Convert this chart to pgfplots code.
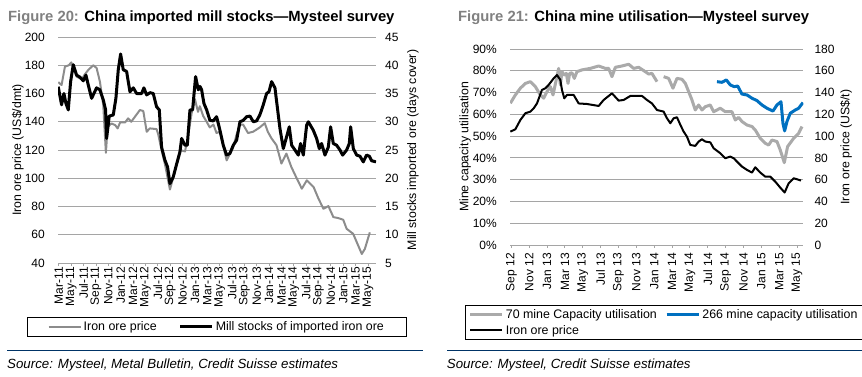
\documentclass[border=0pt]{standalone}
\usepackage{fontspec}
\setmainfont{Liberation Sans}
\usepackage{pgfplots}
\pgfplotsset{compat=1.18}
\definecolor{gridc}{RGB}{165,165,165}
\definecolor{priceg}{RGB}{140,140,140}
\definecolor{lightg}{RGB}{170,170,170}
\definecolor{cblue}{RGB}{0,112,192}
\definecolor{navy}{RGB}{0,51,102}
\definecolor{figgray}{RGB}{128,128,128}
\pgfplotsset{
 cbase/.style={
   scale only axis, anchor=south west,
   /pgf/number format/assume math mode=true,
   tick label style={font=\fontsize{12}{12}\selectfont},
   label style={font=\fontsize{12.3}{13}\selectfont},
   unbounded coords=jump,
 },
 leftaxis/.style={axis x line*=bottom, axis y line*=left,
   y axis line style={draw=none},
   x axis line style={draw=gridc, line width=1pt, -},
   ymajorgrids, grid style={draw=gridc, line width=0.9pt},
   ytick style={draw=none},
   xtick style={draw=gridc, line width=0.9pt},
   tick align=outside, major tick length=3pt,
   xticklabel style={rotate=90, anchor=east, inner sep=0pt},
   yticklabel style={anchor=east, inner sep=0pt, xshift=-10pt}},
 rightaxis/.style={axis y line*=right, axis x line=none,
   y axis line style={draw=none}, ytick style={draw=none},
   yticklabel style={anchor=west, inner sep=0pt, xshift=9pt}},
 legend image code/.code={\draw[#1, line cap=butt] (0pt,0pt) -- (32pt,0pt);},
}
\begin{document}
\begin{tikzpicture}[x=1pt,y=1pt]
\path[use as bounding box] (0,0) rectangle (862,376);
% ---------- titles ----------
\node[anchor=base west, inner sep=0pt, font=\fontsize{14.8}{15}\selectfont\bfseries] at (8,354.3) {\textcolor{figgray}{Figure 20:} China imported mill stocks—Mysteel survey};
\node[anchor=base west, inner sep=0pt, font=\fontsize{14.8}{15}\selectfont\bfseries] at (458,354.3) {\textcolor{figgray}{Figure 21:} China mine utilisation—Mysteel survey};
% ---------- left chart ----------
\begin{axis}[cbase, leftaxis, at={(58pt,113pt)}, width=318pt, height=226pt,
  xmin=1.85, xmax=53.3, ymin=40, ymax=200,
  ytick={40,60,...,200},
  xtick={2,4,...,52},
  xticklabels={Mar-11,May-11,Jul-11,Sep-11,Nov-11,Jan-12,Mar-12,May-12,Jul-12,Sep-12,Nov-12,Jan-13,Mar-13,May-13,Jul-13,Sep-13,Nov-13,Jan-14,Mar-14,May-14,Jul-14,Sep-14,Nov-14,Jan-15,Mar-15,May-15},
  xticklabel style={xshift=-1pt},
  ylabel={Iron ore price (US\$/dmt)},
  ylabel style={at={(rel axis cs:-0.126,0.5)}, anchor=center},
]
\addplot[priceg, line width=2pt, line join=round] coordinates {
(1.9,168)(2.43,166)(2.97,179)(3.6,180)(4.0,182)(4.86,172)(5.67,170)(6.2,173.6)(6.75,176.7)(7.56,180)(8.1,178)(8.63,168.4)(9.17,151.8)(9.6,118)(9.88,136.4)(10.5,138.8)(11.1,137.6)(11.5,135.3)(11.9,139.5)(12.7,139.5)(13.2,142.4)(13.7,140)(15.1,148.3)(15.65,147.6)(16.2,132.9)(16.7,135.3)(17.8,134.8)(18.07,131)(18.6,120)(19.15,110)(19.96,92)(20.77,105)(21.58,120)(22.4,119)(22.9,130)(23.47,146)(24.0,156)(24.5,147)(24.8,151)(25.35,144)(25.9,140)(26.4,136)(27.0,138)(27.5,132)(28.05,133)(29.13,112.7)(30.2,122)(30.75,131)(31.3,138)(31.8,138)(32.6,132)(33.45,133)(34.5,136)(35.3,139)(35.8,132.9)(36.4,128.2)(37.2,123.4)(38.0,110.4)(38.8,117.5)(39.6,108)(40.5,99.7)(41.3,92.6)(42.1,98.5)(43.2,93.8)(44.0,85.5)(44.8,78.4)(45.6,80.3)(46.4,72.5)(47.2,71.8)(48.0,70.6)(48.55,64.2)(49.6,60.7)(50.2,54.6)(51.0,46.4)(51.5,50)(52.3,61.7)
};
\end{axis}
\begin{axis}[cbase, rightaxis, at={(58pt,113pt)}, width=318pt, height=226pt,
  xmin=1.85, xmax=53.3, ymin=5, ymax=45,
  ytick={5,10,...,45},
  ylabel={Mill stocks imported ore (days cover)},
  ylabel style={at={(rel axis cs:1.116,0.5)}, anchor=center},
  legend columns=2, legend cell align=left,
  legend style={at={(-0.0965,-0.2376)}, anchor=north west, draw=black, line width=0.8pt,
    font=\fontsize{12.4}{13}\selectfont, inner xsep=20pt, inner ysep=2.5pt,
    nodes={inner xsep=2pt, inner ysep=2pt},
    /tikz/every even column/.append style={column sep=20pt}},
]
\addlegendimage{priceg, line width=2pt}
\addlegendentry{Iron ore price}
\addplot[black, line width=3pt, line join=round] coordinates {
(1.89,36.2)(2.43,33.0)(2.81,35)(3.13,33.25)(3.51,32.1)(3.89,37.1)(4.32,40.1)(4.86,38.25)(5.4,37.9)(5.94,37.25)(6.37,38.25)(6.75,36.5)(7.29,34.15)(8.09,36)(8.63,35.65)(9.17,33.9)(9.55,32.1)(9.71,27.05)(10.14,31)(10.79,31.2)(11.22,34.15)(11.6,39.2)(11.98,42)(12.41,39.2)(12.95,38.9)(13.49,35.3)(14.03,36)(14.57,35)(15.38,35)(15.75,36)(16.19,34.75)(16.73,35.15)(17.26,35)(17.8,32.65)(18.24,32.1)(18.61,25.5)(19.15,23.2)(19.58,22)(19.96,19.05)(20.5,20.25)(21.04,22.5)(21.58,24.65)(21.85,27.05)(22.39,25.85)(22.77,25.85)(23.2,32.1)(23.63,32.1)(24.11,38)(24.55,35.65)(24.82,36.25)(25.09,35.65)(25.46,33.25)(25.9,32.1)(26.43,30.25)(26.97,30.15)(27.51,30.9)(28.05,28.5)(28.59,25.85)(29.13,24.1)(29.67,24.4)(30.21,25.85)(30.75,26.75)(31.29,30)(31.83,30.25)(32.37,30.9)(32.91,31)(33.45,30)(33.99,30.15)(34.52,31.25)(35.06,33)(35.6,35)(35.98,35.3)(36.41,37.1)(36.95,36)(37.76,28.8)(38.3,25.25)(38.84,27.35)(39.27,29.1)(39.65,25.85)(40.19,25)(40.73,24.1)(41.1,26.15)(41.54,24.1)(42.08,29.4)(42.35,30)(43.15,28.5)(43.69,27.05)(44.13,25.25)(44.5,26.15)(45.04,24.1)(45.58,25.5)(45.96,29.1)(46.39,26.15)(46.93,25.85)(47.47,25)(47.9,24.1)(48.55,25)(48.98,26.15)(49.2,29.1)(49.63,25.25)(50.17,24.1)(50.71,23.9)(51.24,22.9)(51.78,24.1)(52.22,23.9)(52.59,23.1)(53.3,22.9)
};
\addlegendentry{Mill stocks of imported iron ore}
\end{axis}
% ---------- right chart ----------
\begin{axis}[cbase, leftaxis, at={(510pt,131pt)}, width=293.3pt, height=196pt,
  xmin=7.85, xmax=40.7, ymin=0, ymax=90,
  ytick={0,10,...,90},
  yticklabel={\pgfmathprintnumber{\tick}\%},
  xtick={8,10,...,40},
  xticklabels={Sep 12,Nov 12,Jan 13,Mar 13,May 13,Jul 13,Sep 13,Nov 13,Jan 14,Mar 14,May 14,Jul 14,Sep 14,Nov 14,Jan 15,Mar 15,May 15},
  xticklabel style={xshift=-5pt},
  ylabel={Mine capacity utilisation},
  ylabel style={at={(rel axis cs:-0.153,0.5)}, anchor=center},
]
\addplot[lightg, line width=3pt, line join=round] coordinates {
(7.89,65.1)(8.45,68.9)(9.01,72)(9.57,74.2)(10.13,75)(10.69,72.7)(11.25,68.9)(11.62,67.4)(11.99,70.4)(12.37,72.7)(12.67,68.9)(13.3,81.1)(13.49,73.5)(13.67,79.6)(13.93,78.1)(14.16,78.8)(14.35,74.2)(14.53,78.8)(14.79,79.1)(15.05,76.5)(15.35,79.6)(15.91,80.4)(16.85,81.1)(17.78,82.2)(18.53,81.1)(18.9,81.1)(19.27,77.3)(19.65,81.6)(20.39,82.2)(21.14,83)(21.7,81.1)(22.26,81.6)(22.82,80.1)(23.38,78.5)(23.75,78.8)(24.31,75)(24.7,nan)(25.06,77.3)(25.62,76.5)(26.1,72)(26.55,76.5)(27.11,76.1)(27.49,74.2)(27.86,70.4)(28.23,66.6)(28.6,62)(28.98,64.3)(29.35,62)(29.72,63.5)(30.28,64.3)(30.66,61.2)(31.4,62.8)(31.96,61.2)(32.71,61.2)(33.08,57.4)(33.46,58.6)(33.83,56.7)(34.39,55.1)(34.95,54.4)(35.32,52.8)(35.88,49)(36.44,46.7)(36.82,45.9)(37.19,48.2)(37.75,47.5)(38.12,43.6)(38.57,37.8)(38.94,45.2)(39.62,49)(40.18,51.3)(40.55,54.4)
};
\addplot[cblue, line width=3pt, line join=round] coordinates {
(31.03,75)(31.59,74.7)(32.08,75.8)(32.52,73.5)(32.97,72.7)(33.35,73)(33.83,69.3)(34.39,68.9)(34.95,67.4)(35.51,66.3)(36.07,64.3)(36.63,62.8)(37.3,61.5)(37.75,64.3)(38.2,65.8)(38.42,55.9)(38.61,52.4)(38.87,56.7)(39.24,60.5)(39.8,62)(40.18,62.8)(40.66,65.4)
};
\end{axis}
\begin{axis}[cbase, rightaxis, at={(510pt,131pt)}, width=293.3pt, height=196pt,
  xmin=7.85, xmax=40.7, ymin=0, ymax=180,
  ytick={0,20,...,180},
  yticklabel style={xshift=2pt},
  ylabel={Iron ore price (US\$/t)},
  ylabel style={at={(rel axis cs:1.146,0.5)}, anchor=center},
  legend columns=2, legend cell align=left,
  legend style={at={(-0.1534,-0.306)}, anchor=north west, draw=black, line width=0.8pt,
    font=\fontsize{12.4}{13}\selectfont, inner xsep=3pt, inner ysep=1.5pt,
    nodes={inner xsep=2pt, inner ysep=2.6pt},
    /tikz/every even column/.append style={column sep=6pt}},
]
\addlegendimage{lightg, line width=3.5pt}
\addlegendentry{70 mine Capacity utilisation}
\addlegendimage{cblue, line width=3.5pt}
\addlegendentry{266 mine capacity utilisation}
\addplot[black, line width=2pt, line join=round] coordinates {
(7.89,104.1)(8.45,106.3)(9.01,114.8)(9.57,121)(10.13,122.5)(10.5,125.5)(10.87,130)(11.43,142.4)(11.81,143.9)(12.18,147)(12.74,153.1)(13.11,156.1)(13.49,151.6)(13.67,142.4)(13.93,134.7)(14.23,137.8)(14.98,137.8)(15.54,130)(16.47,129.5)(17.78,127.7)(18.34,133.2)(19.27,139.3)(20.02,132.6)(20.58,133.2)(21.33,136.9)(22.07,136.9)(22.63,136.9)(23.19,133.2)(23.75,130)(24.31,124)(25.06,122.5)(25.43,116.4)(25.81,111.8)(26.18,116.4)(26.55,117.3)(26.93,110.3)(27.3,104.1)(27.67,99.5)(28.04,91.9)(28.6,91)(28.98,95)(29.35,97.1)(29.72,95)(30.28,94.3)(30.66,88.8)(31.4,84.3)(31.96,79.7)(32.52,81.2)(32.9,79.7)(33.27,76.6)(33.83,72)(34.39,69)(34.95,66.5)(35.32,71.4)(35.88,66.5)(36.44,62.8)(37.0,62.8)(37.56,58.2)(38.12,52.7)(38.61,48.2)(39.06,56.7)(39.62,61.3)(39.99,60.4)(40.44,59.2)
};
\addlegendentry{Iron ore price}
\end{axis}
% ---------- separators and sources ----------
\draw[navy, line width=1pt] (7,26) -- (423,26);
\draw[navy, line width=1pt] (447,26) -- (862,26);
\node[anchor=base west, inner sep=0pt, font=\fontsize{13.3}{14}\selectfont\itshape] at (7,7.7) {Source: Mysteel, Metal Bulletin, Credit Suisse estimates};
\node[anchor=base west, inner sep=0pt, font=\fontsize{13.3}{14}\selectfont\itshape] at (446.7,8) {Source: Mysteel, Credit Suisse estimates};
\end{tikzpicture}
\end{document}
